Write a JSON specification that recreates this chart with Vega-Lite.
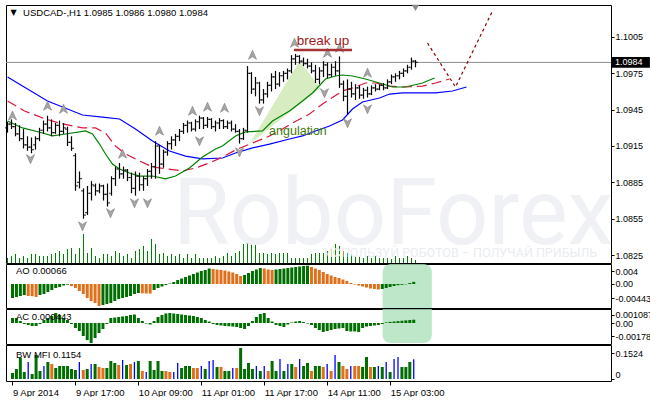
{
"$schema": "https://vega.github.io/schema/vega-lite/v6.json",
"padding": {"left": 4, "top": 4, "right": 0, "bottom": 0},
"bounds": "flush",
"spacing": 1,
"background": "white",
"config": {
  "view": {"stroke": "black", "strokeWidth": 1},
  "font": "Liberation Sans",
  "axis": {"labelFont": "Liberation Sans", "labelFontSize": 9, "labelColor": "black", "tickColor": "black", "tickSize": 3, "labelPadding": 1, "domain": false, "grid": false, "labelOverlap": false, "labelFlush": false}
},
"datasets": {
  "bars": [
    {"i":0,"o":1.0930,"h":1.0935,"l":1.0926,"c":1.0933,"v":500},
    {"i":1,"o":1.0933,"h":1.0937,"l":1.0929,"c":1.0931,"v":700},
    {"i":2,"o":1.0931,"h":1.0934,"l":1.0923,"c":1.0925,"v":900},
    {"i":3,"o":1.0925,"h":1.0932,"l":1.0919,"c":1.0921,"v":500},
    {"i":4,"o":1.0921,"h":1.0929,"l":1.0913,"c":1.0916,"v":700},
    {"i":5,"o":1.0916,"h":1.0923,"l":1.0911,"c":1.0914,"v":500},
    {"i":6,"o":1.0914,"h":1.0922,"l":1.0909,"c":1.0912,"v":900},
    {"i":7,"o":1.0916,"h":1.0923,"l":1.0912,"c":1.0921,"v":900},
    {"i":8,"o":1.0921,"h":1.0930,"l":1.0919,"c":1.0928,"v":700},
    {"i":9,"o":1.0928,"h":1.0936,"l":1.0925,"c":1.0933,"v":700},
    {"i":10,"o":1.0933,"h":1.0940,"l":1.0927,"c":1.0930,"v":700},
    {"i":11,"o":1.0930,"h":1.0937,"l":1.0923,"c":1.0926,"v":900},
    {"i":12,"o":1.0926,"h":1.0934,"l":1.0925,"c":1.0932,"v":1000},
    {"i":13,"o":1.0932,"h":1.0936,"l":1.0923,"c":1.0927,"v":1200},
    {"i":14,"o":1.0927,"h":1.0934,"l":1.0925,"c":1.0930,"v":900},
    {"i":15,"o":1.0929,"h":1.0931,"l":1.0915,"c":1.0918,"v":1400},
    {"i":16,"o":1.0918,"h":1.0923,"l":1.0911,"c":1.0913,"v":1500},
    {"i":17,"o":1.0907,"h":1.0909,"l":1.0878,"c":1.0882,"v":900},
    {"i":18,"o":1.0885,"h":1.0894,"l":1.0880,"c":1.0888,"v":1500},
    {"i":19,"o":1.0878,"h":1.0880,"l":1.0855,"c":1.0858,"v":2900},
    {"i":20,"o":1.0860,"h":1.0882,"l":1.0858,"c":1.0876,"v":1000},
    {"i":21,"o":1.0876,"h":1.0886,"l":1.0870,"c":1.0883,"v":1500},
    {"i":22,"o":1.0882,"h":1.0884,"l":1.0874,"c":1.0878,"v":700},
    {"i":23,"o":1.0878,"h":1.0884,"l":1.0876,"c":1.0882,"v":500},
    {"i":24,"o":1.0882,"h":1.0883,"l":1.0870,"c":1.0875,"v":900},
    {"i":25,"o":1.0875,"h":1.0884,"l":1.0865,"c":1.0868,"v":900},
    {"i":26,"o":1.0876,"h":1.0890,"l":1.0874,"c":1.0888,"v":700},
    {"i":27,"o":1.0888,"h":1.0898,"l":1.0882,"c":1.0896,"v":1200},
    {"i":28,"o":1.0896,"h":1.0901,"l":1.0888,"c":1.0892,"v":1000},
    {"i":29,"o":1.0892,"h":1.0898,"l":1.0888,"c":1.0895,"v":700},
    {"i":30,"o":1.0895,"h":1.0896,"l":1.0886,"c":1.0889,"v":900},
    {"i":31,"o":1.0889,"h":1.0893,"l":1.0876,"c":1.0880,"v":500},
    {"i":32,"o":1.0880,"h":1.0894,"l":1.0874,"c":1.0890,"v":1200},
    {"i":33,"o":1.0890,"h":1.0893,"l":1.0878,"c":1.0883,"v":1400},
    {"i":34,"o":1.0883,"h":1.0890,"l":1.0878,"c":1.0888,"v":1700},
    {"i":35,"o":1.0888,"h":1.0896,"l":1.0882,"c":1.0894,"v":1200},
    {"i":36,"o":1.0894,"h":1.0901,"l":1.0888,"c":1.0898,"v":2400},
    {"i":37,"o":1.0898,"h":1.0919,"l":1.0888,"c":1.0915,"v":1900},
    {"i":38,"o":1.0915,"h":1.0916,"l":1.0892,"c":1.0900,"v":900},
    {"i":39,"o":1.0900,"h":1.0912,"l":1.0897,"c":1.0910,"v":1000},
    {"i":40,"o":1.0910,"h":1.0919,"l":1.0907,"c":1.0917,"v":700},
    {"i":41,"o":1.0917,"h":1.0923,"l":1.0912,"c":1.0920,"v":900},
    {"i":42,"o":1.0920,"h":1.0925,"l":1.0915,"c":1.0923,"v":700},
    {"i":43,"o":1.0923,"h":1.0929,"l":1.0919,"c":1.0927,"v":900},
    {"i":44,"o":1.0927,"h":1.0934,"l":1.0925,"c":1.0932,"v":500},
    {"i":45,"o":1.0932,"h":1.0936,"l":1.0926,"c":1.0934,"v":900},
    {"i":46,"o":1.0934,"h":1.0935,"l":1.0927,"c":1.0929,"v":500},
    {"i":47,"o":1.0929,"h":1.0937,"l":1.0927,"c":1.0935,"v":900},
    {"i":48,"o":1.0935,"h":1.0940,"l":1.0929,"c":1.0938,"v":500},
    {"i":49,"o":1.0938,"h":1.0939,"l":1.0929,"c":1.0932,"v":500},
    {"i":50,"o":1.0932,"h":1.0939,"l":1.0930,"c":1.0937,"v":500},
    {"i":51,"o":1.0937,"h":1.0938,"l":1.0929,"c":1.0931,"v":500},
    {"i":52,"o":1.0931,"h":1.0936,"l":1.0927,"c":1.0934,"v":700},
    {"i":53,"o":1.0934,"h":1.0938,"l":1.0929,"c":1.0936,"v":500},
    {"i":54,"o":1.0936,"h":1.0937,"l":1.0929,"c":1.0931,"v":700},
    {"i":55,"o":1.0931,"h":1.0936,"l":1.0929,"c":1.0934,"v":1000},
    {"i":56,"o":1.0934,"h":1.0936,"l":1.0927,"c":1.0929,"v":700},
    {"i":57,"o":1.0929,"h":1.0933,"l":1.0926,"c":1.0927,"v":1000},
    {"i":58,"o":1.0927,"h":1.0929,"l":1.0917,"c":1.0921,"v":1200},
    {"i":59,"o":1.0921,"h":1.0930,"l":1.0920,"c":1.0928,"v":1900},
    {"i":60,"o":1.0928,"h":1.0981,"l":1.0926,"c":1.0975,"v":2200},
    {"i":61,"o":1.0975,"h":1.0976,"l":1.0958,"c":1.0962,"v":2200},
    {"i":62,"o":1.0962,"h":1.0972,"l":1.0956,"c":1.0967,"v":1900},
    {"i":63,"o":1.0967,"h":1.0968,"l":1.0950,"c":1.0953,"v":1000},
    {"i":64,"o":1.0953,"h":1.0962,"l":1.0950,"c":1.0958,"v":1000},
    {"i":65,"o":1.0958,"h":1.0968,"l":1.0955,"c":1.0965,"v":900},
    {"i":66,"o":1.0965,"h":1.0975,"l":1.0960,"c":1.0972,"v":1000},
    {"i":67,"o":1.0972,"h":1.0977,"l":1.0962,"c":1.0966,"v":900},
    {"i":68,"o":1.0966,"h":1.0976,"l":1.0964,"c":1.0973,"v":1000},
    {"i":69,"o":1.0973,"h":1.0977,"l":1.0968,"c":1.0975,"v":1000},
    {"i":70,"o":1.0975,"h":1.0979,"l":1.0970,"c":1.0977,"v":1000},
    {"i":71,"o":1.0977,"h":1.0990,"l":1.0975,"c":1.0987,"v":500},
    {"i":72,"o":1.0987,"h":1.0991,"l":1.0982,"c":1.0989,"v":500},
    {"i":73,"o":1.0989,"h":1.0990,"l":1.0983,"c":1.0985,"v":500},
    {"i":74,"o":1.0985,"h":1.0988,"l":1.0981,"c":1.0983,"v":500},
    {"i":75,"o":1.0983,"h":1.0987,"l":1.0979,"c":1.0981,"v":500},
    {"i":76,"o":1.0981,"h":1.0984,"l":1.0975,"c":1.0977,"v":900},
    {"i":77,"o":1.0977,"h":1.0982,"l":1.0967,"c":1.0970,"v":1000},
    {"i":78,"o":1.0970,"h":1.0980,"l":1.0966,"c":1.0977,"v":1000},
    {"i":79,"o":1.0977,"h":1.0985,"l":1.0972,"c":1.0982,"v":1000},
    {"i":80,"o":1.0982,"h":1.0984,"l":1.0971,"c":1.0974,"v":1200},
    {"i":81,"o":1.0974,"h":1.0983,"l":1.0972,"c":1.0980,"v":1400},
    {"i":82,"o":1.0980,"h":1.0985,"l":1.0973,"c":1.0977,"v":1900},
    {"i":83,"o":1.0977,"h":1.0989,"l":1.0963,"c":1.0966,"v":1700},
    {"i":84,"o":1.0966,"h":1.0969,"l":1.0952,"c":1.0956,"v":1200},
    {"i":85,"o":1.0956,"h":1.0970,"l":1.0941,"c":1.0962,"v":1000},
    {"i":86,"o":1.0962,"h":1.0968,"l":1.0955,"c":1.0958,"v":900},
    {"i":87,"o":1.0958,"h":1.0966,"l":1.0953,"c":1.0963,"v":700},
    {"i":88,"o":1.0963,"h":1.0965,"l":1.0954,"c":1.0957,"v":700},
    {"i":89,"o":1.0957,"h":1.0963,"l":1.0954,"c":1.0961,"v":500},
    {"i":90,"o":1.0961,"h":1.0964,"l":1.0955,"c":1.0958,"v":700},
    {"i":91,"o":1.0958,"h":1.0965,"l":1.0957,"c":1.0963,"v":500},
    {"i":92,"o":1.0963,"h":1.0966,"l":1.0960,"c":1.0962,"v":700},
    {"i":93,"o":1.0962,"h":1.0966,"l":1.0961,"c":1.0965,"v":500},
    {"i":94,"o":1.0965,"h":1.0967,"l":1.0961,"c":1.0963,"v":500},
    {"i":95,"o":1.0963,"h":1.0970,"l":1.0962,"c":1.0968,"v":500},
    {"i":96,"o":1.0968,"h":1.0974,"l":1.0966,"c":1.0972,"v":400},
    {"i":97,"o":1.0972,"h":1.0975,"l":1.0968,"c":1.0973,"v":700},
    {"i":98,"o":1.0973,"h":1.0977,"l":1.0970,"c":1.0975,"v":500},
    {"i":99,"o":1.0975,"h":1.0979,"l":1.0972,"c":1.0977,"v":500},
    {"i":100,"o":1.0977,"h":1.0982,"l":1.0975,"c":1.0980,"v":700},
    {"i":101,"o":1.0980,"h":1.0988,"l":1.0978,"c":1.0985,"v":500},
    {"i":102,"o":1.0985,"h":1.0986,"l":1.0980,"c":1.0984,"v":300}
  ],
  "gator": [
    {"s":"jaw","i":0,"p":1.09720},{"s":"jaw","i":3.75,"p":1.09645},{"s":"jaw","i":10,"p":1.09522},{"s":"jaw","i":18.75,"p":1.09406},{"s":"jaw","i":23.75,"p":1.09389},{"s":"jaw","i":28,"p":1.09373},{"s":"jaw","i":32,"p":1.09290},{"s":"jaw","i":36.25,"p":1.09191},{"s":"jaw","i":40.5,"p":1.09109},{"s":"jaw","i":44.5,"p":1.09067},{"s":"jaw","i":48.75,"p":1.09043},{"s":"jaw","i":53.75,"p":1.09051},{"s":"jaw","i":57,"p":1.09092},{"s":"jaw","i":61.25,"p":1.09134},{"s":"jaw","i":65.5,"p":1.09166},{"s":"jaw","i":70.5,"p":1.09208},{"s":"jaw","i":73.75,"p":1.09233},{"s":"jaw","i":77,"p":1.09274},{"s":"jaw","i":80.5,"p":1.09315},{"s":"jaw","i":83.75,"p":1.09365},{"s":"jaw","i":86.25,"p":1.09455},{"s":"jaw","i":88.75,"p":1.09513},{"s":"jaw","i":93,"p":1.09546},{"s":"jaw","i":95.5,"p":1.09579},{"s":"jaw","i":98.75,"p":1.09588},{"s":"jaw","i":107,"p":1.09588},{"s":"jaw","i":111.25,"p":1.09604},{"s":"jaw","i":114.75,"p":1.09637},
    {"s":"teeth","i":0,"p":1.09522},{"s":"teeth","i":4.25,"p":1.09439},{"s":"teeth","i":9.5,"p":1.09373},{"s":"teeth","i":13.75,"p":1.09332},{"s":"teeth","i":18.75,"p":1.09299},{"s":"teeth","i":22,"p":1.09299},{"s":"teeth","i":24.5,"p":1.09257},{"s":"teeth","i":27,"p":1.09150},{"s":"teeth","i":29.5,"p":1.09084},{"s":"teeth","i":33,"p":1.09026},{"s":"teeth","i":36.25,"p":1.08977},{"s":"teeth","i":40,"p":1.08960},{"s":"teeth","i":43.75,"p":1.08944},{"s":"teeth","i":47,"p":1.08968},{"s":"teeth","i":50.5,"p":1.09010},{"s":"teeth","i":53.75,"p":1.09059},{"s":"teeth","i":57.5,"p":1.09125},{"s":"teeth","i":61.25,"p":1.09175},{"s":"teeth","i":65,"p":1.09224},{"s":"teeth","i":68.75,"p":1.09290},{"s":"teeth","i":71.25,"p":1.09340},{"s":"teeth","i":75.5,"p":1.09414},{"s":"teeth","i":78.75,"p":1.09497},{"s":"teeth","i":83.75,"p":1.09604},{"s":"teeth","i":86.25,"p":1.09629},{"s":"teeth","i":89.5,"p":1.09670},{"s":"teeth","i":92,"p":1.09670},{"s":"teeth","i":95.5,"p":1.09645},{"s":"teeth","i":98.75,"p":1.09637},{"s":"teeth","i":103.75,"p":1.09645},{"s":"teeth","i":107,"p":1.09670},{"s":"teeth","i":110.5,"p":1.09703},
    {"s":"lips","i":0,"p":1.09356},{"s":"lips","i":3.75,"p":1.09299},{"s":"lips","i":8.75,"p":1.09257},{"s":"lips","i":11.25,"p":1.09233},{"s":"lips","i":14.5,"p":1.09249},{"s":"lips","i":19.5,"p":1.09274},{"s":"lips","i":21.25,"p":1.09249},{"s":"lips","i":23,"p":1.09166},{"s":"lips","i":24.5,"p":1.09084},{"s":"lips","i":26.25,"p":1.09001},{"s":"lips","i":28,"p":1.08960},{"s":"lips","i":30.5,"p":1.08927},{"s":"lips","i":33,"p":1.08902},{"s":"lips","i":36.25,"p":1.08902},{"s":"lips","i":39.5,"p":1.08878},{"s":"lips","i":42,"p":1.08902},{"s":"lips","i":45.5,"p":1.08968},{"s":"lips","i":48.75,"p":1.09059},{"s":"lips","i":52,"p":1.09125},{"s":"lips","i":53.75,"p":1.09150},{"s":"lips","i":57,"p":1.09233},{"s":"lips","i":59.5,"p":1.09266},{"s":"lips","i":63.75,"p":1.09274},{"s":"lips","i":66.25,"p":1.09356},{"s":"lips","i":70.5,"p":1.09439},{"s":"lips","i":73.75,"p":1.09522},{"s":"lips","i":76.25,"p":1.09588},{"s":"lips","i":79.5,"p":1.09703},{"s":"lips","i":82,"p":1.09728},{"s":"lips","i":83.75,"p":1.09736},{"s":"lips","i":86.25,"p":1.09728},{"s":"lips","i":89.5,"p":1.09703},{"s":"lips","i":93,"p":1.09670},{"s":"lips","i":96.25,"p":1.09637},{"s":"lips","i":99.5,"p":1.09637},{"s":"lips","i":103.75,"p":1.09670},{"s":"lips","i":106.75,"p":1.09711}
  ],
  "fractals": [
    {"d":"up","i":1.25,"p":1.0940},{"d":"up","i":10,"p":1.0948},{"d":"up","i":14,"p":1.09455},{"d":"up","i":28.75,"p":1.09084},{"d":"up","i":38,"p":1.09274},{"d":"up","i":46.25,"p":1.09439},{"d":"up","i":50,"p":1.09472},{"d":"up","i":54.25,"p":1.09464},{"d":"up","i":61.25,"p":1.09901},{"d":"up","i":71.75,"p":1.1000},{"d":"up","i":80,"p":1.09918},{"d":"up","i":83,"p":1.09959},{"d":"up","i":90,"p":1.09753},
    {"d":"down","i":5.75,"p":1.09043},{"d":"down","i":18.75,"p":1.08489},{"d":"down","i":25.75,"p":1.08597},{"d":"down","i":31.75,"p":1.08679},{"d":"down","i":35,"p":1.08679},{"d":"down","i":48,"p":1.09191},{"d":"down","i":58,"p":1.0910},{"d":"down","i":63,"p":1.09439},{"d":"down","i":79.25,"p":1.09588},{"d":"down","i":85,"p":1.0934},{"d":"down","i":90,"p":1.09455}
  ],
  "ao": [
    {"i":0,"v":-0.00431,"c":"g"},{"i":1,"v":-0.00400,"c":"g"},{"i":2,"v":-0.00369,"c":"g"},{"i":3,"v":-0.00338,"c":"g"},{"i":4,"v":-0.00369,"c":"o"},{"i":5,"v":-0.00375,"c":"o"},{"i":6,"v":-0.00400,"c":"o"},{"i":7,"v":-0.00338,"c":"g"},{"i":8,"v":-0.00308,"c":"g"},{"i":9,"v":-0.00246,"c":"g"},{"i":10,"v":-0.00185,"c":"g"},{"i":11,"v":-0.00123,"c":"g"},{"i":12,"v":-0.00092,"c":"g"},{"i":13,"v":-0.00046,"c":"g"},{"i":14,"v":-0.00022,"c":"g"},{"i":15,"v":-0.00062,"c":"o"},{"i":16,"v":-0.00123,"c":"o"},{"i":17,"v":-0.00215,"c":"o"},{"i":18,"v":-0.00308,"c":"o"},{"i":19,"v":-0.00431,"c":"o"},{"i":20,"v":-0.00523,"c":"o"},{"i":21,"v":-0.00585,"c":"o"},{"i":22,"v":-0.00677,"c":"o"},{"i":23,"v":-0.00646,"c":"g"},{"i":24,"v":-0.00615,"c":"g"},{"i":25,"v":-0.00585,"c":"g"},{"i":26,"v":-0.00523,"c":"g"},{"i":27,"v":-0.00462,"c":"g"},{"i":28,"v":-0.00431,"c":"g"},{"i":29,"v":-0.00400,"c":"g"},{"i":30,"v":-0.00369,"c":"g"},{"i":31,"v":-0.00308,"c":"g"},{"i":32,"v":-0.00277,"c":"g"},{"i":33,"v":-0.00286,"c":"o"},{"i":34,"v":-0.00292,"c":"o"},{"i":35,"v":-0.00295,"c":"o"},{"i":36,"v":-0.00185,"c":"g"},{"i":37,"v":-0.00123,"c":"g"},{"i":38,"v":-0.00077,"c":"g"},{"i":39,"v":-0.00031,"c":"g"},{"i":40,"v":0.00015,"c":"g"},{"i":41,"v":0.00062,"c":"g"},{"i":42,"v":0.00123,"c":"g"},{"i":43,"v":0.00169,"c":"g"},{"i":44,"v":0.00215,"c":"g"},{"i":45,"v":0.00262,"c":"g"},{"i":46,"v":0.00308,"c":"g"},{"i":47,"v":0.00354,"c":"g"},{"i":48,"v":0.00400,"c":"g"},{"i":49,"v":0.00431,"c":"g"},{"i":50,"v":0.00477,"c":"g"},{"i":51,"v":0.00462,"c":"o"},{"i":52,"v":0.00446,"c":"o"},{"i":53,"v":0.00431,"c":"o"},{"i":54,"v":0.00415,"c":"o"},{"i":55,"v":0.00385,"c":"o"},{"i":56,"v":0.00354,"c":"o"},{"i":57,"v":0.00308,"c":"o"},{"i":58,"v":0.00246,"c":"o"},{"i":59,"v":0.00277,"c":"g"},{"i":60,"v":0.00338,"c":"g"},{"i":61,"v":0.00400,"c":"g"},{"i":62,"v":0.00446,"c":"g"},{"i":63,"v":0.00492,"c":"g"},{"i":64,"v":0.00477,"c":"o"},{"i":65,"v":0.00446,"c":"o"},{"i":66,"v":0.00431,"c":"o"},{"i":67,"v":0.00446,"c":"g"},{"i":68,"v":0.00462,"c":"g"},{"i":69,"v":0.00477,"c":"g"},{"i":70,"v":0.00492,"c":"g"},{"i":71,"v":0.00508,"c":"g"},{"i":72,"v":0.00523,"c":"g"},{"i":73,"v":0.00538,"c":"g"},{"i":74,"v":0.00554,"c":"g"},{"i":75,"v":0.00563,"c":"g"},{"i":76,"v":0.00523,"c":"o"},{"i":77,"v":0.00477,"c":"o"},{"i":78,"v":0.00431,"c":"o"},{"i":79,"v":0.00369,"c":"o"},{"i":80,"v":0.00308,"c":"o"},{"i":81,"v":0.00262,"c":"o"},{"i":82,"v":0.00215,"c":"o"},{"i":83,"v":0.00185,"c":"o"},{"i":84,"v":0.00138,"c":"o"},{"i":85,"v":0.00092,"c":"o"},{"i":86,"v":0.00031,"c":"o"},{"i":87,"v":-0.00015,"c":"o"},{"i":88,"v":-0.00046,"c":"o"},{"i":89,"v":-0.00077,"c":"o"},{"i":90,"v":-0.00108,"c":"o"},{"i":91,"v":-0.00138,"c":"o"},{"i":92,"v":-0.00154,"c":"o"},{"i":93,"v":-0.00169,"c":"o"},{"i":94,"v":-0.00154,"c":"g"},{"i":95,"v":-0.00123,"c":"g"},{"i":96,"v":-0.00092,"c":"g"},{"i":97,"v":-0.00062,"c":"g"},{"i":98,"v":-0.00037,"c":"g"},{"i":99,"v":-0.00025,"c":"g"},{"i":100,"v":-0.00009,"c":"g"},{"i":101,"v":0.00030,"c":"g"},{"i":102,"v":0.00066,"c":"g"}
  ],
  "ac": [
    {"i":0,"v":0.00067,"c":"g"},{"i":1,"v":0.00067,"c":"g"},{"i":2,"v":0.00027,"c":"r"},{"i":3,"v":-0.00013,"c":"r"},{"i":4,"v":-0.00027,"c":"r"},{"i":5,"v":-0.0004,"c":"r"},{"i":6,"v":-0.0004,"c":"r"},{"i":7,"v":-0.00013,"c":"g"},{"i":8,"v":0.0004,"c":"g"},{"i":9,"v":0.00067,"c":"g"},{"i":10,"v":0.00093,"c":"g"},{"i":11,"v":0.00133,"c":"g"},{"i":12,"v":0.00107,"c":"r"},{"i":13,"v":0.00067,"c":"r"},{"i":14,"v":0.0004,"c":"r"},{"i":15,"v":-0.00013,"c":"r"},{"i":16,"v":-0.00067,"c":"r"},{"i":17,"v":-0.00107,"c":"r"},{"i":18,"v":-0.00173,"c":"r"},{"i":19,"v":-0.00227,"c":"r"},{"i":20,"v":-0.00267,"c":"r"},{"i":21,"v":-0.002,"c":"g"},{"i":22,"v":-0.00133,"c":"g"},{"i":23,"v":-0.0008,"c":"g"},{"i":24,"v":-0.00013,"c":"g"},{"i":25,"v":0.00067,"c":"g"},{"i":26,"v":0.00073,"c":"g"},{"i":27,"v":0.0008,"c":"g"},{"i":28,"v":0.00087,"c":"g"},{"i":29,"v":0.00093,"c":"g"},{"i":30,"v":0.00107,"c":"g"},{"i":31,"v":0.00113,"c":"g"},{"i":32,"v":0.00067,"c":"r"},{"i":33,"v":0.00027,"c":"r"},{"i":34,"v":-0.00007,"c":"r"},{"i":35,"v":-0.0002,"c":"r"},{"i":36,"v":0.00027,"c":"g"},{"i":37,"v":0.0008,"c":"g"},{"i":38,"v":0.00107,"c":"g"},{"i":39,"v":0.00127,"c":"g"},{"i":40,"v":0.00133,"c":"g"},{"i":41,"v":0.00127,"c":"r"},{"i":42,"v":0.0012,"c":"r"},{"i":43,"v":0.00113,"c":"r"},{"i":44,"v":0.00107,"c":"r"},{"i":45,"v":0.001,"c":"r"},{"i":46,"v":0.00093,"c":"r"},{"i":47,"v":0.0008,"c":"r"},{"i":48,"v":0.00067,"c":"r"},{"i":49,"v":0.0004,"c":"r"},{"i":50,"v":0.0002,"c":"r"},{"i":51,"v":-0.00013,"c":"r"},{"i":52,"v":-0.00027,"c":"r"},{"i":53,"v":-0.00033,"c":"r"},{"i":54,"v":-0.0004,"c":"r"},{"i":55,"v":-0.00043,"c":"r"},{"i":56,"v":-0.00047,"c":"r"},{"i":57,"v":-0.00053,"c":"r"},{"i":58,"v":-0.00067,"c":"r"},{"i":59,"v":-0.0008,"c":"r"},{"i":60,"v":-0.0004,"c":"g"},{"i":61,"v":0.00027,"c":"g"},{"i":62,"v":0.0008,"c":"g"},{"i":63,"v":0.0012,"c":"g"},{"i":64,"v":0.00133,"c":"g"},{"i":65,"v":0.00067,"c":"r"},{"i":66,"v":0.0002,"c":"r"},{"i":67,"v":-0.00027,"c":"r"},{"i":68,"v":-0.0004,"c":"r"},{"i":69,"v":-0.00053,"c":"r"},{"i":70,"v":-0.0002,"c":"g"},{"i":71,"v":0.00007,"c":"g"},{"i":72,"v":0.0002,"c":"g"},{"i":73,"v":0.00027,"c":"g"},{"i":74,"v":0.00013,"c":"r"},{"i":75,"v":-0.00007,"c":"r"},{"i":76,"v":-0.00027,"c":"r"},{"i":77,"v":-0.00067,"c":"r"},{"i":78,"v":-0.00093,"c":"r"},{"i":79,"v":-0.0012,"c":"r"},{"i":80,"v":-0.00107,"c":"g"},{"i":81,"v":-0.00093,"c":"g"},{"i":82,"v":-0.0008,"c":"g"},{"i":83,"v":-0.00073,"c":"g"},{"i":84,"v":-0.00067,"c":"g"},{"i":85,"v":-0.00107,"c":"r"},{"i":86,"v":-0.00113,"c":"r"},{"i":87,"v":-0.00113,"c":"r"},{"i":88,"v":-0.0012,"c":"r"},{"i":89,"v":-0.00067,"c":"g"},{"i":90,"v":-0.00047,"c":"g"},{"i":91,"v":-0.0004,"c":"g"},{"i":92,"v":-0.00033,"c":"g"},{"i":93,"v":-0.00027,"c":"g"},{"i":94,"v":-0.00013,"c":"g"},{"i":95,"v":0.00008,"c":"g"},{"i":96,"v":0.00015,"c":"g"},{"i":97,"v":0.0002,"c":"g"},{"i":98,"v":0.00025,"c":"g"},{"i":99,"v":0.0003,"c":"g"},{"i":100,"v":0.00035,"c":"g"},{"i":101,"v":0.0004,"c":"g"},{"i":102,"v":0.000443,"c":"g"}
  ],
  "mfi": [
    {"i":0,"v":0.0352,"c":"r"},{"i":1,"v":0.0586,"c":"r"},{"i":2,"v":0.1231,"c":"g"},{"i":3,"v":0.0410,"c":"r"},{"i":4,"v":0.0996,"c":"b"},{"i":5,"v":0.0293,"c":"r"},{"i":6,"v":0.1407,"c":"g"},{"i":7,"v":0.0469,"c":"r"},{"i":8,"v":0.0762,"c":"b"},{"i":9,"v":0.0996,"c":"g"},{"i":10,"v":0.0879,"c":"y"},{"i":11,"v":0.0645,"c":"r"},{"i":12,"v":0.0762,"c":"g"},{"i":13,"v":0.0762,"c":"g"},{"i":14,"v":0.0762,"c":"r"},{"i":15,"v":0.0586,"c":"r"},{"i":16,"v":0.0528,"c":"g"},{"i":17,"v":0.0996,"c":"b"},{"i":18,"v":0.0528,"c":"y"},{"i":19,"v":0.0586,"c":"r"},{"i":20,"v":0.0879,"c":"b"},{"i":21,"v":0.0879,"c":"r"},{"i":22,"v":0.0703,"c":"y"},{"i":23,"v":0.0645,"c":"y"},{"i":24,"v":0.0645,"c":"r"},{"i":25,"v":0.1055,"c":"g"},{"i":26,"v":0.0938,"c":"r"},{"i":27,"v":0.0821,"c":"y"},{"i":28,"v":0.1114,"c":"b"},{"i":29,"v":0.0821,"c":"r"},{"i":30,"v":0.0879,"c":"y"},{"i":31,"v":0.0996,"c":"b"},{"i":32,"v":0.1055,"c":"r"},{"i":33,"v":0.0469,"c":"y"},{"i":34,"v":0.0410,"c":"b"},{"i":35,"v":0.1055,"c":"g"},{"i":36,"v":0.0528,"c":"r"},{"i":37,"v":0.1055,"c":"g"},{"i":38,"v":0.0469,"c":"r"},{"i":39,"v":0.0469,"c":"y"},{"i":40,"v":0.0410,"c":"y"},{"i":41,"v":0.0410,"c":"b"},{"i":42,"v":0.0938,"c":"b"},{"i":43,"v":0.0645,"c":"r"},{"i":44,"v":0.0762,"c":"g"},{"i":45,"v":0.0762,"c":"g"},{"i":46,"v":0.0645,"c":"y"},{"i":47,"v":0.0645,"c":"y"},{"i":48,"v":0.0762,"c":"b"},{"i":49,"v":0.0586,"c":"r"},{"i":50,"v":0.1055,"c":"b"},{"i":51,"v":0.1114,"c":"b"},{"i":52,"v":0.0703,"c":"r"},{"i":53,"v":0.0703,"c":"y"},{"i":54,"v":0.0469,"c":"r"},{"i":55,"v":0.0469,"c":"r"},{"i":56,"v":0.0645,"c":"b"},{"i":57,"v":0.0645,"c":"y"},{"i":58,"v":0.1817,"c":"g"},{"i":59,"v":0.0586,"c":"r"},{"i":60,"v":0.0938,"c":"g"},{"i":61,"v":0.0586,"c":"r"},{"i":62,"v":0.0762,"c":"b"},{"i":63,"v":0.0469,"c":"r"},{"i":64,"v":0.0762,"c":"b"},{"i":65,"v":0.0469,"c":"y"},{"i":66,"v":0.1055,"c":"g"},{"i":67,"v":0.0469,"c":"r"},{"i":68,"v":0.1172,"c":"b"},{"i":69,"v":0.0469,"c":"r"},{"i":70,"v":0.0879,"c":"b"},{"i":71,"v":0.0879,"c":"g"},{"i":72,"v":0.0703,"c":"y"},{"i":73,"v":0.1172,"c":"b"},{"i":74,"v":0.0762,"c":"r"},{"i":75,"v":0.0938,"c":"g"},{"i":76,"v":0.0469,"c":"y"},{"i":77,"v":0.0762,"c":"g"},{"i":78,"v":0.0762,"c":"r"},{"i":79,"v":0.0703,"c":"y"},{"i":80,"v":0.0879,"c":"b"},{"i":81,"v":0.0469,"c":"y"},{"i":82,"v":0.1407,"c":"b"},{"i":83,"v":0.0996,"c":"r"},{"i":84,"v":0.0762,"c":"y"},{"i":85,"v":0.0586,"c":"y"},{"i":86,"v":0.0762,"c":"b"},{"i":87,"v":0.0762,"c":"y"},{"i":88,"v":0.0762,"c":"y"},{"i":89,"v":0.0703,"c":"r"},{"i":90,"v":0.1290,"c":"g"},{"i":91,"v":0.0703,"c":"y"},{"i":92,"v":0.0703,"c":"r"},{"i":93,"v":0.0762,"c":"b"},{"i":94,"v":0.0703,"c":"r"},{"i":95,"v":0.0996,"c":"b"},{"i":96,"v":0.0410,"c":"r"},{"i":97,"v":0.1172,"c":"b"},{"i":98,"v":0.1290,"c":"b"},{"i":99,"v":0.0703,"c":"r"},{"i":100,"v":0.0703,"c":"r"},{"i":101,"v":0.0996,"c":"g"},{"i":102,"v":0.1154,"c":"b"}
  ]
},
"vconcat": [
  {
    "width": 605, "height": 258,
    "resolve": {"scale": {"y": "independent"}},
    "layer": [
      {
        "data": {"name": "bars"},
        "mark": {"type": "rule", "color": "#008000", "strokeWidth": 1},
        "encoding": {
          "x": {"field": "i", "type": "quantitative", "scale": {"domain": [-0.375, 150.875], "nice": false, "zero": false}, "axis": null},
          "y": {"field": "v", "type": "quantitative", "scale": {"domain": [0, 25800], "nice": false}, "axis": null},
          "y2": {"datum": 0}
        }
      },
      {
        "data": {"values": [{"p": 1.0825}]},
        "mark": {"type": "rule", "opacity": 0},
        "encoding": {
          "y": {"field": "p", "type": "quantitative", "scale": {"domain": [1.08184, 1.10314], "nice": false, "zero": false},
                "axis": {"orient": "right", "values": [1.1005, 1.0975, 1.0945, 1.0915, 1.0885, 1.0855, 1.0825], "format": ".4f", "title": null}}
        }
      },
      {
        "layer": [
          {
            "data": {"values": [{"t": "RoboForex", "i": 96.4, "p": 1.08341}]},
            "mark": {"type": "text", "font": "Roboto", "fontSize": 92, "color": "#eff1f5", "align": "center", "baseline": "alphabetic"},
            "encoding": {
              "x": {"field": "i", "type": "quantitative", "scale": {"domain": [-0.375, 150.875], "nice": false, "zero": false}, "axis": null},
              "y": {"field": "p", "type": "quantitative", "scale": {"domain": [1.08184, 1.10314], "nice": false, "zero": false}, "axis": null},
              "text": {"field": "t"}
            }
          },
          {
            "data": {"values": [{"t": "ИСПОЛЬЗУЙ РОБОТОВ – ПОЛУЧАЙ ПРИБЫЛЬ", "i": 79.1, "p": 1.08267}]},
            "mark": {"type": "text", "font": "Roboto", "fontSize": 12.5, "color": "#eaecf1", "align": "left", "baseline": "middle"},
            "encoding": {
              "x": {"field": "i", "type": "quantitative", "scale": {"domain": [-0.375, 150.875], "nice": false, "zero": false}, "axis": null},
              "y": {"field": "p", "type": "quantitative", "scale": {"domain": [1.08184, 1.10314], "nice": false, "zero": false}, "axis": null},
              "text": {"field": "t"}
            }
          },
          {
            "data": {"values": [{"i": 60.5, "p": 1.09166, "p2": 1.09166}, {"i": 73, "p": 1.09852, "p2": 1.09492}, {"i": 78.25, "p": 1.09629, "p2": 1.09629}]},
            "mark": {"type": "area", "orient": "vertical", "color": "#d4eabb", "opacity": 0.9},
            "encoding": {
              "x": {"field": "i", "type": "quantitative", "scale": {"domain": [-0.375, 150.875], "nice": false, "zero": false}, "axis": null},
              "y": {"field": "p", "type": "quantitative", "scale": {"domain": [1.08184, 1.10314], "nice": false, "zero": false}, "axis": null},
              "y2": {"field": "p2"}
            }
          },
          {
            "data": {"values": [{"p": 1.0984}]},
            "mark": {"type": "rule", "color": "#8c8c8c", "strokeWidth": 1},
            "encoding": {
              "y": {"field": "p", "type": "quantitative", "scale": {"domain": [1.08184, 1.10314], "nice": false, "zero": false}, "axis": null}
            }
          },
          {
            "data": {"name": "gator"},
            "transform": [{"filter": "datum.s == 'jaw'"}],
            "mark": {"type": "line", "color": "#0000ff", "strokeWidth": 1.2},
            "encoding": {
              "x": {"field": "i", "type": "quantitative", "scale": {"domain": [-0.375, 150.875], "nice": false, "zero": false}, "axis": null},
              "y": {"field": "p", "type": "quantitative", "scale": {"domain": [1.08184, 1.10314], "nice": false, "zero": false}, "axis": null}
            }
          },
          {
            "data": {"name": "gator"},
            "transform": [{"filter": "datum.s == 'teeth'"}],
            "mark": {"type": "line", "color": "#dc143c", "strokeWidth": 1.2, "strokeDash": [10, 5]},
            "encoding": {
              "x": {"field": "i", "type": "quantitative", "scale": {"domain": [-0.375, 150.875], "nice": false, "zero": false}, "axis": null},
              "y": {"field": "p", "type": "quantitative", "scale": {"domain": [1.08184, 1.10314], "nice": false, "zero": false}, "axis": null}
            }
          },
          {
            "data": {"name": "gator"},
            "transform": [{"filter": "datum.s == 'lips'"}],
            "mark": {"type": "line", "color": "#008000", "strokeWidth": 1.2},
            "encoding": {
              "x": {"field": "i", "type": "quantitative", "scale": {"domain": [-0.375, 150.875], "nice": false, "zero": false}, "axis": null},
              "y": {"field": "p", "type": "quantitative", "scale": {"domain": [1.08184, 1.10314], "nice": false, "zero": false}, "axis": null}
            }
          },
          {
            "data": {"name": "bars"},
            "mark": {"type": "rule", "color": "black", "strokeWidth": 1.2},
            "encoding": {
              "x": {"field": "i", "type": "quantitative", "scale": {"domain": [-0.375, 150.875], "nice": false, "zero": false}, "axis": null},
              "y": {"field": "h", "type": "quantitative", "scale": {"domain": [1.08184, 1.10314], "nice": false, "zero": false}, "axis": null},
              "y2": {"field": "l"}
            }
          },
          {
            "data": {"name": "bars"},
            "mark": {"type": "tick", "orient": "horizontal", "color": "black", "size": 2, "thickness": 1.2, "xOffset": -1.5},
            "encoding": {
              "x": {"field": "i", "type": "quantitative", "scale": {"domain": [-0.375, 150.875], "nice": false, "zero": false}, "axis": null},
              "y": {"field": "o", "type": "quantitative", "scale": {"domain": [1.08184, 1.10314], "nice": false, "zero": false}, "axis": null}
            }
          },
          {
            "data": {"name": "bars"},
            "mark": {"type": "tick", "orient": "horizontal", "color": "black", "size": 2, "thickness": 1.2, "xOffset": 1.5},
            "encoding": {
              "x": {"field": "i", "type": "quantitative", "scale": {"domain": [-0.375, 150.875], "nice": false, "zero": false}, "axis": null},
              "y": {"field": "c", "type": "quantitative", "scale": {"domain": [1.08184, 1.10314], "nice": false, "zero": false}, "axis": null}
            }
          },
          {
            "data": {"name": "fractals"},
            "mark": {"type": "point", "filled": true, "size": 90, "color": "#a6a6a6", "stroke": "#7a7a7a", "strokeWidth": 0.6, "opacity": 1},
            "encoding": {
              "x": {"field": "i", "type": "quantitative", "scale": {"domain": [-0.375, 150.875], "nice": false, "zero": false}, "axis": null},
              "y": {"field": "p", "type": "quantitative", "scale": {"domain": [1.08184, 1.10314], "nice": false, "zero": false}, "axis": null},
              "shape": {"field": "d", "type": "nominal", "legend": null,
                        "scale": {"domain": ["up", "down"], "range": ["M0,-1L0.85,0.9L0,0.35L-0.85,0.9Z", "M0,1L0.85,-0.9L0,-0.35L-0.85,-0.9Z"]}}
            }
          },
          {
            "data": {"values": [{"i": 102, "p": 1.1029}]},
            "mark": {"type": "point", "shape": "triangle-down", "filled": true, "size": 55, "color": "#8a8a8a", "opacity": 1},
            "encoding": {
              "x": {"field": "i", "type": "quantitative", "scale": {"domain": [-0.375, 150.875], "nice": false, "zero": false}, "axis": null},
              "y": {"field": "p", "type": "quantitative", "scale": {"domain": [1.08184, 1.10314], "nice": false, "zero": false}, "axis": null}
            }
          },
          {
            "data": {"values": [{"i": 105, "p": 1.1000}, {"i": 112, "p": 1.09637}, {"i": 121.25, "p": 1.10265}]},
            "mark": {"type": "line", "color": "#8b0000", "strokeWidth": 1.2, "strokeDash": [3, 3]},
            "encoding": {
              "x": {"field": "i", "type": "quantitative", "scale": {"domain": [-0.375, 150.875], "nice": false, "zero": false}, "axis": null},
              "y": {"field": "p", "type": "quantitative", "scale": {"domain": [1.08184, 1.10314], "nice": false, "zero": false}, "axis": null}
            }
          },
          {
            "data": {"values": [{"i": 71.625, "i2": 86.125, "p": 1.09943}]},
            "mark": {"type": "rule", "color": "#a33232", "strokeWidth": 2.5},
            "encoding": {
              "x": {"field": "i", "type": "quantitative", "scale": {"domain": [-0.375, 150.875], "nice": false, "zero": false}, "axis": null},
              "x2": {"field": "i2"},
              "y": {"field": "p", "type": "quantitative", "scale": {"domain": [1.08184, 1.10314], "nice": false, "zero": false}, "axis": null}
            }
          },
          {
            "data": {"values": [{"t": "break up", "i": 78.9, "p": 1.10017}]},
            "mark": {"type": "text", "font": "Liberation Sans", "fontSize": 13.5, "color": "#a01818", "align": "center", "baseline": "middle"},
            "encoding": {
              "x": {"field": "i", "type": "quantitative", "scale": {"domain": [-0.375, 150.875], "nice": false, "zero": false}, "axis": null},
              "y": {"field": "p", "type": "quantitative", "scale": {"domain": [1.08184, 1.10314], "nice": false, "zero": false}, "axis": null},
              "text": {"field": "t"}
            }
          },
          {
            "data": {"values": [{"t": "angulation", "i": 65.4, "p": 1.09274}]},
            "mark": {"type": "text", "font": "Liberation Sans", "fontSize": 12.5, "color": "#3f7a0c", "align": "left", "baseline": "middle"},
            "encoding": {
              "x": {"field": "i", "type": "quantitative", "scale": {"domain": [-0.375, 150.875], "nice": false, "zero": false}, "axis": null},
              "y": {"field": "p", "type": "quantitative", "scale": {"domain": [1.08184, 1.10314], "nice": false, "zero": false}, "axis": null},
              "text": {"field": "t"}
            }
          },
          {
            "data": {"values": [{"t": "▼", "i": 1.5, "p": 1.10248}]},
            "mark": {"type": "text", "font": "DejaVu Sans", "fontSize": 8, "color": "black", "align": "center", "baseline": "middle"},
            "encoding": {
              "x": {"field": "i", "type": "quantitative", "scale": {"domain": [-0.375, 150.875], "nice": false, "zero": false}, "axis": null},
              "y": {"field": "p", "type": "quantitative", "scale": {"domain": [1.08184, 1.10314], "nice": false, "zero": false}, "axis": null},
              "text": {"field": "t"}
            }
          },
          {
            "data": {"values": [{"t": "USDCAD-,H1  1.0985 1.0986 1.0980 1.0984", "i": 3.9, "p": 1.10248}]},
            "mark": {"type": "text", "font": "Liberation Sans", "fontSize": 9.5, "color": "black", "align": "left", "baseline": "middle"},
            "encoding": {
              "x": {"field": "i", "type": "quantitative", "scale": {"domain": [-0.375, 150.875], "nice": false, "zero": false}, "axis": null},
              "y": {"field": "p", "type": "quantitative", "scale": {"domain": [1.08184, 1.10314], "nice": false, "zero": false}, "axis": null},
              "text": {"field": "t"}
            }
          },
          {
            "data": {"values": [{"a": 150.875, "b": 160.6, "p1": 1.09795, "p2": 1.09885}]},
            "mark": {"type": "rect", "color": "black", "clip": false},
            "encoding": {
              "x": {"field": "a", "type": "quantitative", "scale": {"domain": [-0.375, 150.875], "nice": false, "zero": false}, "axis": null},
              "x2": {"field": "b"},
              "y": {"field": "p1", "type": "quantitative", "scale": {"domain": [1.08184, 1.10314], "nice": false, "zero": false}, "axis": null},
              "y2": {"field": "p2"}
            }
          },
          {
            "data": {"values": [{"t": "1.0984", "i": 151.9, "p": 1.0984}]},
            "mark": {"type": "text", "font": "Liberation Sans", "fontSize": 9, "color": "white", "align": "left", "baseline": "middle", "clip": false},
            "encoding": {
              "x": {"field": "i", "type": "quantitative", "scale": {"domain": [-0.375, 150.875], "nice": false, "zero": false}, "axis": null},
              "y": {"field": "p", "type": "quantitative", "scale": {"domain": [1.08184, 1.10314], "nice": false, "zero": false}, "axis": null},
              "text": {"field": "t"}
            }
          }
        ]
      }
    ]
  },
  {
    "width": 605, "height": 44,
    "layer": [
      {
        "data": {"values": [{"a": 94.1, "b": 106.6}]},
        "mark": {"type": "rect", "color": "#aee0bb", "opacity": 0.8, "cornerRadiusTopLeft": 8, "cornerRadiusTopRight": 8},
        "encoding": {
          "x": {"field": "a", "type": "quantitative", "scale": {"domain": [-0.375, 150.875], "nice": false, "zero": false}, "axis": null},
          "x2": {"field": "b"},
          "y": {"datum": 0.006154, "type": "quantitative", "scale": {"domain": [-0.007385, 0.006154], "nice": false, "zero": false},
                "axis": {"orient": "right", "title": null, "values": [0.004, 0, -0.00443], "labelExpr": "datum.value == 0 ? '0.00' : datum.value > 0 ? '0.004' : '-0.00443'"}},
          "y2": {"datum": -0.007385}
        }
      },
      {
        "data": {"name": "ao"},
        "mark": {"type": "bar", "orient": "vertical", "size": 3},
        "encoding": {
          "x": {"field": "i", "type": "quantitative", "scale": {"domain": [-0.375, 150.875], "nice": false, "zero": false}, "axis": null},
          "y": {"field": "v", "type": "quantitative", "scale": {"domain": [-0.007385, 0.006154], "nice": false, "zero": false},
                "axis": {"orient": "right", "title": null, "values": [0.004, 0, -0.00443], "labelExpr": "datum.value == 0 ? '0.00' : datum.value > 0 ? '0.004' : '-0.00443'"}},
          "y2": {"datum": 0},
          "color": {"field": "c", "type": "nominal", "legend": null, "scale": {"domain": ["g", "o"], "range": ["#006e00", "#e0701c"]}}
        }
      },
      {
        "data": {"values": [{"t": "AO 0.00066", "i": 0.9, "p": 0.004}]},
        "mark": {"type": "text", "font": "Liberation Sans", "fontSize": 9.5, "color": "black", "align": "left", "baseline": "middle"},
        "encoding": {
          "x": {"field": "i", "type": "quantitative", "scale": {"domain": [-0.375, 150.875], "nice": false, "zero": false}, "axis": null},
          "y": {"field": "p", "type": "quantitative", "scale": {"domain": [-0.007385, 0.006154], "nice": false, "zero": false},
                "axis": {"orient": "right", "title": null, "values": [0.004, 0, -0.00443], "labelExpr": "datum.value == 0 ? '0.00' : datum.value > 0 ? '0.004' : '-0.00443'"}},
          "text": {"field": "t"}
        }
      }
    ]
  },
  {
    "width": 605, "height": 35,
    "layer": [
      {
        "data": {"values": [{"a": 94.1, "b": 106.6}]},
        "mark": {"type": "rect", "color": "#aee0bb", "opacity": 0.8, "cornerRadiusBottomLeft": 8, "cornerRadiusBottomRight": 8},
        "encoding": {
          "x": {"field": "a", "type": "quantitative", "scale": {"domain": [-0.375, 150.875], "nice": false, "zero": false}, "axis": null},
          "x2": {"field": "b"},
          "y": {"datum": 0.001867, "type": "quantitative", "scale": {"domain": [-0.0028, 0.001867], "nice": false, "zero": false},
                "axis": {"orient": "right", "title": null, "values": [0.001087, 0, -0.00178], "labelExpr": "datum.value == 0 ? '0.00' : datum.value > 0 ? '0.001087' : '-0.00178'"}},
          "y2": {"datum": -0.00267}
        }
      },
      {
        "data": {"name": "ac"},
        "mark": {"type": "bar", "orient": "vertical", "size": 3},
        "encoding": {
          "x": {"field": "i", "type": "quantitative", "scale": {"domain": [-0.375, 150.875], "nice": false, "zero": false}, "axis": null},
          "y": {"field": "v", "type": "quantitative", "scale": {"domain": [-0.0028, 0.001867], "nice": false, "zero": false},
                "axis": {"orient": "right", "title": null, "values": [0.001087, 0, -0.00178], "labelExpr": "datum.value == 0 ? '0.00' : datum.value > 0 ? '0.001087' : '-0.00178'"}},
          "y2": {"datum": 0},
          "color": {"field": "c", "type": "nominal", "legend": null, "scale": {"domain": ["g", "r"], "range": ["#008000", "#dc143c"]}}
        }
      },
      {
        "data": {"values": [{"t": "AC 0.000443", "i": 0.9, "p": 0.0008}]},
        "mark": {"type": "text", "font": "Liberation Sans", "fontSize": 9.5, "color": "black", "align": "left", "baseline": "middle"},
        "encoding": {
          "x": {"field": "i", "type": "quantitative", "scale": {"domain": [-0.375, 150.875], "nice": false, "zero": false}, "axis": null},
          "y": {"field": "p", "type": "quantitative", "scale": {"domain": [-0.0028, 0.001867], "nice": false, "zero": false},
                "axis": {"orient": "right", "title": null, "values": [0.001087, 0, -0.00178], "labelExpr": "datum.value == 0 ? '0.00' : datum.value > 0 ? '0.001087' : '-0.00178'"}},
          "text": {"field": "t"}
        }
      }
    ]
  },
  {
    "width": 605, "height": 36,
    "layer": [
      {
        "data": {"name": "mfi"},
        "transform": [{"filter": "datum.c != 'b'"}],
        "mark": {"type": "bar", "orient": "vertical", "size": 3},
        "encoding": {
          "x": {"field": "i", "type": "quantitative", "scale": {"domain": [-0.375, 150.875], "nice": false, "zero": false},
                "axis": {"orient": "bottom", "title": null, "values": [0, 16, 32, 48, 64, 80, 96], "tickSize": 4, "labelAlign": "left", "labelBaseline": "top", "labelPadding": 2, "labelFontSize": 9.5,
                         "labelExpr": "datum.value == 0 ? '9 Apr 2014' : datum.value == 16 ? '9 Apr 17:00' : datum.value == 32 ? '10 Apr 09:00' : datum.value == 48 ? '11 Apr 01:00' : datum.value == 64 ? '11 Apr 17:00' : datum.value == 80 ? '14 Apr 11:00' : '15 Apr 03:00'"}},
          "y": {"field": "v", "type": "quantitative", "scale": {"domain": [-0.0117, 0.1993], "nice": false, "zero": false},
                "axis": {"orient": "right", "title": null, "values": [0.1524, 0], "labelExpr": "datum.value == 0 ? '0' : '0.1524'", "labelOffset": {"condition": {"test": "datum.value == 0", "value": -5}, "value": 0}}},
          "y2": {"datum": 0},
          "color": {"field": "c", "type": "nominal", "legend": null, "scale": {"domain": ["g", "r", "y"], "range": ["#2e8b57", "#dc143c", "#b8860b"]}}
        }
      },
      {
        "data": {"name": "mfi"},
        "transform": [{"filter": "datum.c == 'b'"}],
        "mark": {"type": "bar", "orient": "vertical", "size": 1.3, "color": "#0000ff"},
        "encoding": {
          "x": {"field": "i", "type": "quantitative", "scale": {"domain": [-0.375, 150.875], "nice": false, "zero": false},
                "axis": {"orient": "bottom", "title": null, "values": [0, 16, 32, 48, 64, 80, 96], "tickSize": 4, "labelAlign": "left", "labelBaseline": "top", "labelPadding": 2, "labelFontSize": 9.5,
                         "labelExpr": "datum.value == 0 ? '9 Apr 2014' : datum.value == 16 ? '9 Apr 17:00' : datum.value == 32 ? '10 Apr 09:00' : datum.value == 48 ? '11 Apr 01:00' : datum.value == 64 ? '11 Apr 17:00' : datum.value == 80 ? '14 Apr 11:00' : '15 Apr 03:00'"}},
          "y": {"field": "v", "type": "quantitative", "scale": {"domain": [-0.0117, 0.1993], "nice": false, "zero": false},
                "axis": {"orient": "right", "title": null, "values": [0.1524, 0], "labelExpr": "datum.value == 0 ? '0' : '0.1524'", "labelOffset": {"condition": {"test": "datum.value == 0", "value": -5}, "value": 0}}},
          "y2": {"datum": 0}
        }
      },
      {
        "data": {"values": [{"t": "BW MFI 0.1154", "i": 0.9, "p": 0.1407}]},
        "mark": {"type": "text", "font": "Liberation Sans", "fontSize": 9.5, "color": "black", "align": "left", "baseline": "middle"},
        "encoding": {
          "x": {"field": "i", "type": "quantitative", "scale": {"domain": [-0.375, 150.875], "nice": false, "zero": false},
                "axis": {"orient": "bottom", "title": null, "values": [0, 16, 32, 48, 64, 80, 96], "tickSize": 4, "labelAlign": "left", "labelBaseline": "top", "labelPadding": 2, "labelFontSize": 9.5,
                         "labelExpr": "datum.value == 0 ? '9 Apr 2014' : datum.value == 16 ? '9 Apr 17:00' : datum.value == 32 ? '10 Apr 09:00' : datum.value == 48 ? '11 Apr 01:00' : datum.value == 64 ? '11 Apr 17:00' : datum.value == 80 ? '14 Apr 11:00' : '15 Apr 03:00'"}},
          "y": {"field": "p", "type": "quantitative", "scale": {"domain": [-0.0117, 0.1993], "nice": false, "zero": false},
                "axis": {"orient": "right", "title": null, "values": [0.1524, 0], "labelExpr": "datum.value == 0 ? '0' : '0.1524'", "labelOffset": {"condition": {"test": "datum.value == 0", "value": -5}, "value": 0}}},
          "text": {"field": "t"}
        }
      }
    ]
  }
]
}
